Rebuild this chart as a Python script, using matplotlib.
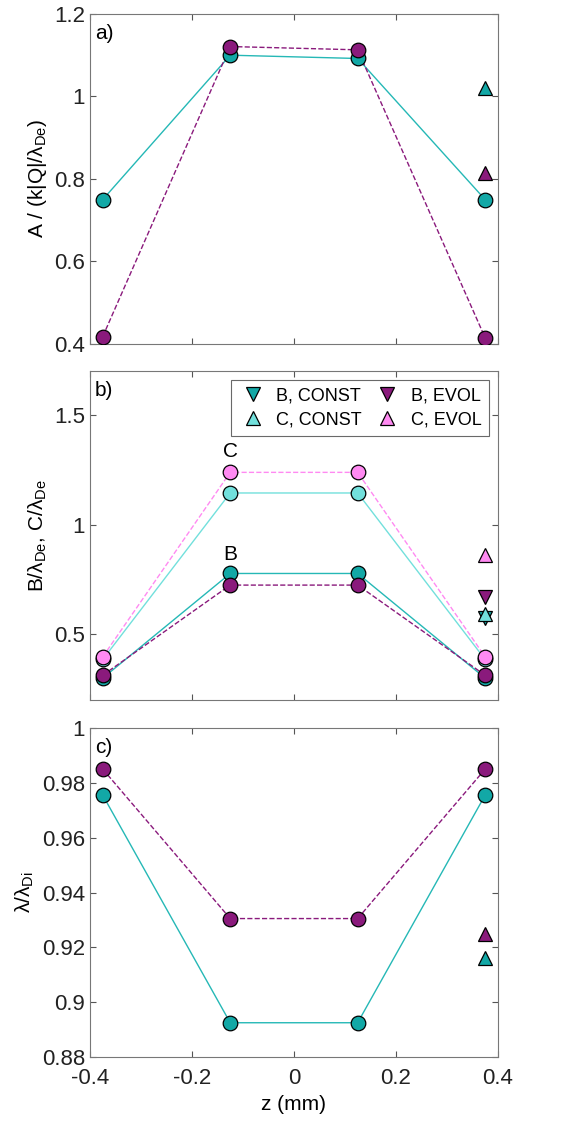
import numpy as np
import matplotlib
matplotlib.use("Agg")
import matplotlib.pyplot as plt
from matplotlib.ticker import FuncFormatter

plt.rcParams['font.family'] = ['Liberation Sans', 'DejaVu Sans']
plt.rcParams['mathtext.fontset'] = 'custom'
plt.rcParams['mathtext.rm'] = 'Liberation Sans'
plt.rcParams['mathtext.it'] = 'Liberation Sans:italic'

# positions along z (mm)
z = [-0.375, -0.125, 0.125, 0.375]
z_end = 0.375

# panel a) amplitude A
a_const = [0.75, 1.10, 1.092, 0.75]
a_evol = [0.418, 1.121, 1.113, 0.415]
a_tri_const = 1.02
a_tri_evol = 0.815

# panel b) B and C
b_const = [0.300, 0.777, 0.777, 0.300]
b_evol = [0.313, 0.724, 0.724, 0.313]
c_const = [0.385, 1.144, 1.144, 0.385]
c_evol = [0.397, 1.238, 1.238, 0.397]
b_tri_const = 0.573
b_tri_evol = 0.670
c_tri_const = 0.590
c_tri_evol = 0.859

# panel c) lambda / lambda_Di
l_const = [0.9755, 0.8925, 0.8925, 0.9755]
l_evol = [0.9850, 0.9305, 0.9305, 0.9850]
l_tri_const = 0.9160
l_tri_evol = 0.9250

TEAL = '#12A8A6'
TEAL_LINE = '#25B8B6'
PURPLE = '#8A1A7C'
LCYAN = '#72E0DC'
PINK = '#FF8AF2'

ms = 10.5
mew = 0.9


def fmt(v, pos):
    return '%g' % round(v, 4)


def style(ax, ylim, yticks):
    ax.set_xlim(-0.4, 0.4)
    ax.set_xticks([-0.4, -0.2, 0, 0.2, 0.4])
    ax.set_ylim(*ylim)
    ax.set_yticks(yticks)
    ax.yaxis.set_major_formatter(FuncFormatter(fmt))
    ax.xaxis.set_major_formatter(FuncFormatter(fmt))
    ax.tick_params(direction='in', top=True, right=True, length=4,
                   width=0.8, color='#555555', labelsize=16, labelcolor='#222222')
    ax.tick_params(axis='x', pad=8)
    for s in ax.spines.values():
        s.set_color('#777777')
        s.set_linewidth(0.8)


def series(ax, y, color, mcolor, ls):
    ax.plot(z, y, ls, color=color, lw=1.0, zorder=2)
    ax.plot(z, y, 'o', ms=ms, mfc=mcolor, mec='black', mew=mew, zorder=3)


def tri(ax, y, mcolor, marker='^'):
    ax.plot([z_end], [y], marker, ms=ms, mfc=mcolor, mec='black', mew=mew, zorder=3)


fig = plt.figure(figsize=(5.86, 11.24), dpi=100)
left, width = 0.1536, 0.696
ax1 = fig.add_axes([left, 0.694, width, 0.2936])
ax2 = fig.add_axes([left, 0.3772, width, 0.2927])
ax3 = fig.add_axes([left, 0.0596, width, 0.2927])

# a)
series(ax1, a_const, TEAL_LINE, TEAL, '-')
series(ax1, a_evol, PURPLE, PURPLE, '--')
tri(ax1, a_tri_const, TEAL)
tri(ax1, a_tri_evol, PURPLE)
style(ax1, (0.4, 1.2), [0.4, 0.6, 0.8, 1.0, 1.2])
ax1.set_xticklabels([])
ax1.set_ylabel(r'A / (k|Q|/λ$_{\mathrm{De}}$)', fontsize=15)
ax1.text(0.012, 0.97, 'a)', transform=ax1.transAxes, fontsize=15, va='top')

# b)
series(ax2, c_const, LCYAN, LCYAN, '-')
series(ax2, b_const, TEAL_LINE, TEAL, '-')
series(ax2, c_evol, PINK, PINK, '--')
series(ax2, b_evol, PURPLE, PURPLE, '--')
tri(ax2, c_tri_evol, PINK)
tri(ax2, b_tri_evol, PURPLE, 'v')
tri(ax2, b_tri_const, TEAL, 'v')
tri(ax2, c_tri_const, LCYAN)
style(ax2, (0.2, 1.7), [0.5, 1.0, 1.5])
ax2.set_xticklabels([])
ax2.set_ylabel(r'B/λ$_{\mathrm{De}}$, C/λ$_{\mathrm{De}}$', fontsize=15)
ax2.text(0.012, 0.97, 'b)', transform=ax2.transAxes, fontsize=15, va='top')
ax2.text(-0.125, 1.29, 'C', ha='center', va='bottom', fontsize=15)
ax2.text(-0.125, 0.82, 'B', ha='center', va='bottom', fontsize=15)

handles = [
    plt.Line2D([], [], ls='none', marker='v', ms=ms, mfc=TEAL, mec='black', mew=mew),
    plt.Line2D([], [], ls='none', marker='^', ms=ms, mfc=LCYAN, mec='black', mew=mew),
    plt.Line2D([], [], ls='none', marker='v', ms=ms, mfc=PURPLE, mec='black', mew=mew),
    plt.Line2D([], [], ls='none', marker='^', ms=ms, mfc=PINK, mec='black', mew=mew),
]
labels = ['B, CONST', 'C, CONST', 'B, EVOL', 'C, EVOL']
leg = ax2.legend(handles, labels, ncol=2, loc='upper right', fontsize=13,
                 frameon=True, fancybox=False, edgecolor='#444444',
                 handlelength=1.6, handletextpad=0.5, columnspacing=0.6,
                 labelspacing=0.4, borderaxespad=0.5, borderpad=0.4)
leg.get_frame().set_linewidth(0.8)

# c)
series(ax3, l_const, TEAL_LINE, TEAL, '-')
series(ax3, l_evol, PURPLE, PURPLE, '--')
tri(ax3, l_tri_evol, PURPLE)
tri(ax3, l_tri_const, TEAL)
style(ax3, (0.88, 1.0), [0.88, 0.90, 0.92, 0.94, 0.96, 0.98, 1.0])
ax3.set_ylabel(r'λ/λ$_{\mathrm{Di}}$', fontsize=15)
ax3.set_xlabel('z (mm)', fontsize=15)
ax3.text(0.012, 0.97, 'c)', transform=ax3.transAxes, fontsize=15, va='top')

fig.savefig('out.png', dpi=100)
